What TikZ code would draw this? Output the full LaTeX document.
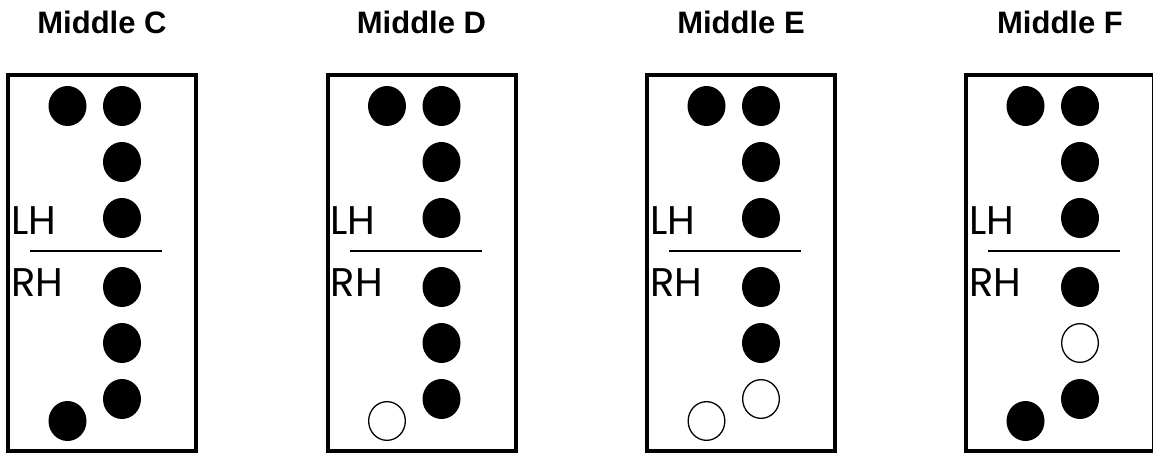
\documentclass[tikz,border=0pt]{standalone}
\usepackage{fontspec}
\setmainfont{Liberation Sans}
\newfontfamily\lhfont{Poppins}
\usetikzlibrary{shapes.geometric}
\begin{document}
\begin{tikzpicture}[x=1pt,y=-1pt,
  fdot/.style={ellipse,fill=black,minimum width=38pt,minimum height=40pt,inner sep=0pt},
  odot/.style={ellipse,draw=black,line width=1.3pt,fill=white,minimum width=36.7pt,minimum height=38.7pt,inner sep=0pt},
  panelbox/.style={draw=black,line width=4pt,minimum width=188pt,minimum height=376pt,inner sep=0pt},
  title/.style={font=\bfseries\fontsize{31}{31}\selectfont,anchor=base,inner sep=0pt},
  hand/.style={font=\lhfont\fontsize{40}{40}\selectfont,anchor=base west,inner sep=0pt},
  divider/.style={line width=1.5pt}]
\useasboundingbox (0,0) rectangle (1153,456);
\fill[white] (0,0) rectangle (1153,456);
\foreach \ox/\L/\sa/\sb/\sc in {0/C/fdot/fdot/fdot, 319.5/D/fdot/fdot/odot, 639/E/fdot/odot/odot, 958/F/odot/fdot/fdot}{
  \node[title] (\L-title) at ({\ox+102},33) {Middle \L};
  \node[panelbox] (\L-box) at ({\ox+102},263) {};
  \node[fdot] (\L-r1a) at ({\ox+67.5},106) {};
  \node[fdot] (\L-r1b) at ({\ox+122},106) {};
  \node[fdot] (\L-r2) at ({\ox+122},162) {};
  \node[fdot] (\L-r3) at ({\ox+122},218) {};
  \node[fdot] (\L-r4) at ({\ox+122},287) {};
  \node[\sa] (\L-r5) at ({\ox+122},343) {};
  \node[\sb] (\L-r6) at ({\ox+122},399) {};
  \node[\sc] (\L-bl) at ({\ox+67.5},421) {};
  \node[hand] (\L-lh) at ({\ox+11},234) {LH};
  \node[hand] (\L-rh) at ({\ox+11},296) {RH};
  \coordinate (\L-la) at ({\ox+30},251);
  \coordinate (\L-lb) at ({\ox+162},251);
  \draw[divider] (\L-la) -- (\L-lb);
}
\end{tikzpicture}
\end{document}
